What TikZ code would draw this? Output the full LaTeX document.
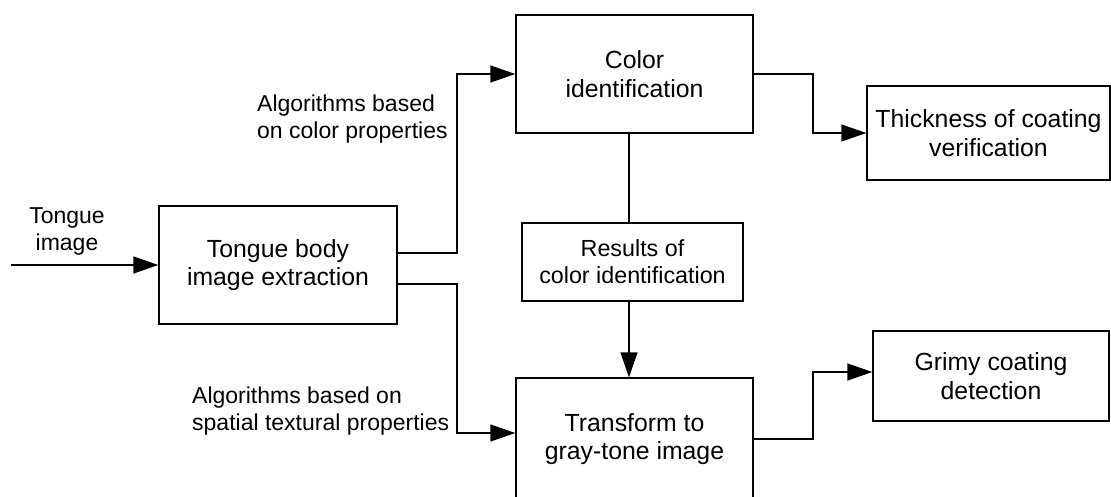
\documentclass[tikz,border=0pt]{standalone}
\usepackage{fontspec}
\setmainfont{Liberation Sans}
\usetikzlibrary{arrows.meta}
\begin{document}
\begin{tikzpicture}[x=1pt,y=-1pt,
  box/.style={draw, line width=1.4pt, minimum width=#1, inner sep=0pt, align=center,
    font=\fontsize{24.8}{28.5}\selectfont},
  lbl/.style={inner sep=0pt, font=\fontsize{23}{27}\selectfont},
  conn/.style={line width=1.4pt},
  arr/.style={conn, -{Triangle[length=25pt,width=17pt]}}]
\useasboundingbox (0,0) rectangle (1111,496);
\clip (0,0) rectangle (1111,496);
\node[box=238pt, minimum height=118pt] (tongue) at (278,265) {Tongue body\\image extraction};
\node[box=237pt, minimum height=118pt] (color) at (634.5,74) {Color\\identification};
\node[box=243pt, minimum height=94pt] (thick) at (988.5,133) {Thickness of coating\\verification};
\node[box=221pt, minimum height=78pt, font=\fontsize{23.3}{27}\selectfont] (results) at (632.5,262) {Results of\\color identification};
\node[box=237pt, minimum height=122pt] (transform) at (634.5,439) {Transform to\\gray-tone image};
\node[box=236pt, minimum height=90pt] (grimy) at (991,376) {Grimy coating\\detection};
\node[lbl, align=center] (tin) at (67,231) {Tongue\\image};
\node[lbl, align=left, anchor=west] (acol) at (257,119) {Algorithms based\\on color properties};
\node[lbl, align=left, anchor=west] (aspa) at (192,411) {Algorithms based on\\spatial textural properties};
\coordinate (in) at (11,265);
\coordinate (j1) at (457,0);
\coordinate (j2) at (813,0);
\coordinate (vx) at (629,0);
\coordinate (tw) at ([yshift=6pt]transform.west);
\coordinate (gw) at ([yshift=4pt]grimy.west);
\draw[arr] (in) -- (tongue.west);
\draw[arr] ([yshift=12pt]tongue.east) -| (j1 |- color.west) -- (color.west);
\draw[arr] ([yshift=-19pt]tongue.east) -| (j1 |- tw) -- (tw);
\draw[arr] (color.east) -| (j2 |- thick.west) -- (thick.west);
\draw[conn] (color.south -| vx) -- (results.north -| vx);
\draw[arr] (results.south -| vx) -- (transform.north -| vx);
\draw[arr] (transform.east) -| (j2 |- gw) -- (gw);
\end{tikzpicture}
\end{document}
